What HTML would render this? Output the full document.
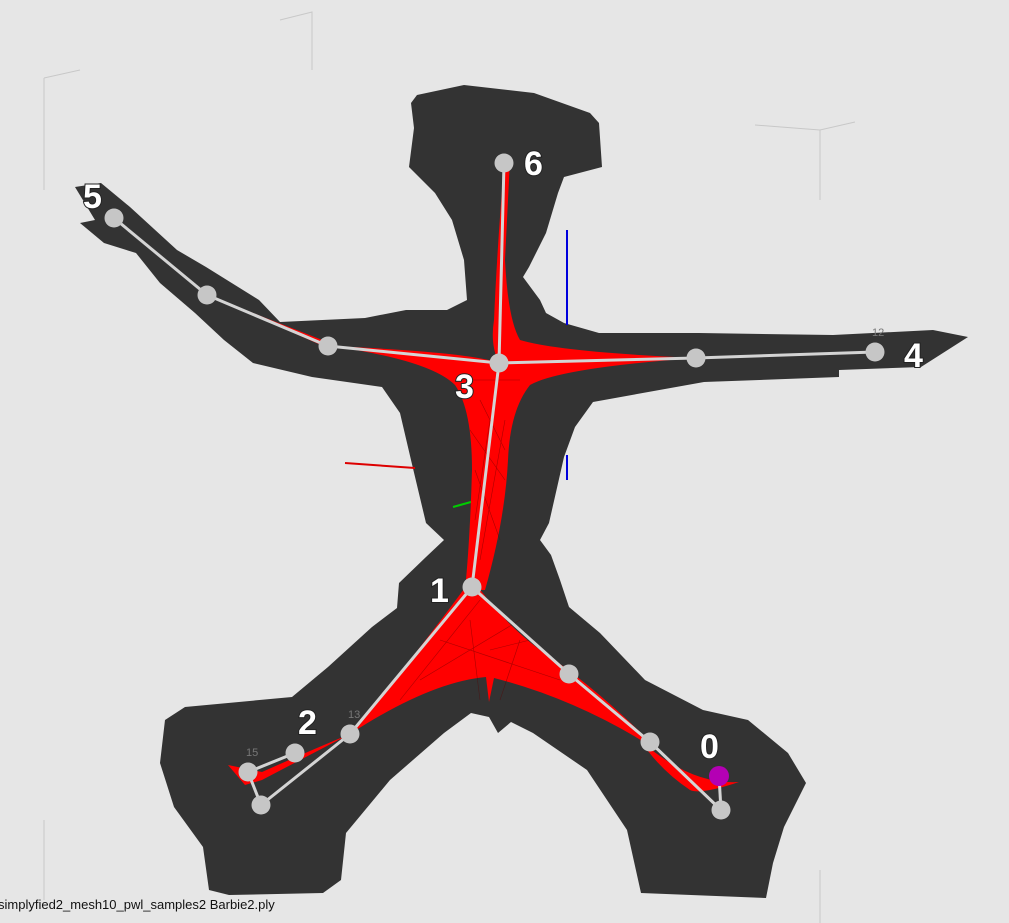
<!DOCTYPE html>
<html><head><meta charset="utf-8">
<style>
html,body{margin:0;padding:0;background:#e6e6e6;}
svg{display:block;}
.lbl{font-family:"Liberation Sans",sans-serif;font-weight:bold;font-size:34px;fill:#fff;stroke:#222;stroke-width:2px;paint-order:stroke;}
.tiny{font-family:"Liberation Sans",sans-serif;font-size:11px;fill:#777;}
</style></head>
<body>
<svg id="scene" width="1009" height="923" viewBox="0 0 1009 923">
<rect width="1009" height="923" fill="#e6e6e6"/>
<g stroke="#c8c8c8" stroke-width="1" fill="none">
<path d="M280,20 L312,12 L312,70"/><path d="M44,78 L80,70 M44,78 L44,190"/>
<path d="M755,125 L820,130 L855,122 M820,130 L820,200"/>
<path d="M44,820 L44,900"/><path d="M820,870 L820,923"/>
</g>
<path fill="#333333" d="M417,95 L464,85 L534,93 L590,113 L599,123 L602,167 L564,177 L558,193 L546,233 L529,267 L523,277 L540,300 L546,313 L564,323 L599,333 L699,333 L833,335 L933,330 L968,337 L921,367 L839,370 L839,377 L704,382 L593,402 L575,427 L564,457 L549,523 L540,540 L551,555 L560,580 L569,607 L600,633 L645,680 L703,710 L748,720 L788,753 L806,783 L784,827 L773,863 L766,898 L641,893 L627,830 L587,770 L533,733 L511,722 L498,733 L489,717 L471,713 L444,733 L390,780 L346,833 L341,880 L323,893 L229,895 L209,890 L203,847 L174,807 L160,763 L165,720 L185,707 L292,697 L328,667 L372,627 L397,608 L399,583 L426,557 L444,540 L426,523 L411,460 L400,413 L382,387 L312,377 L253,363 L224,340 L195,313 L160,283 L136,253 L104,243 L80,223 L95,220 L75,187 L101,183 L130,207 L177,250 L206,267 L259,300 L280,322 L365,318 L406,310 L447,310 L467,300 L464,260 L452,220 L435,193 L409,167 L414,128 L411,103 Z"/>
<g>
<line x1="567" y1="230" x2="567" y2="325" stroke="#0000dd" stroke-width="2"/>
<line x1="567" y1="455" x2="567" y2="480" stroke="#0000dd" stroke-width="2"/>
<line x1="345" y1="463" x2="415" y2="468" stroke="#dd0000" stroke-width="2"/>
<line x1="453" y1="507" x2="478" y2="500" stroke="#00cc00" stroke-width="2"/>
</g>
<g id="web">
<path fill="#ff0000" d="M499,363 Q470,352 330,346 Q430,360 455,385 Q472,410 472,470 Q470,540 465,590 L485,590 Q505,520 508,460 Q510,410 530,385 Q560,368 696,358 Q560,352 520,340 Q508,320 505,260 L510,160 L504,165 Q497,250 494,320 Q490,345 499,363 Z"/>
<path fill="#ff0000" d="M472,578 Q420,650 350,734 Q430,682 486,677 L489,702 L494,678 Q580,700 660,752 Q600,690 540,650 Q500,620 472,578 Z"/>
<path fill="#ff0000" d="M640,740 Q690,785 739,782 Q700,795 690,790 Q660,770 640,740 Z"/>
<path fill="#ff0000" d="M350,734 Q300,760 262,780 L245,785 L228,765 L262,772 Q300,755 350,734 Z"/>
<path fill="#ff0000" d="M207,295 L330,343 L330,349 Z"/>
<g stroke="#5a0000" stroke-width="0.6" opacity="0.5" fill="none">
<path d="M480,400 L505,450 M470,430 L505,480 M475,470 L500,540 M490,420 L475,520 M505,420 L480,560 M440,640 L560,680 M420,680 L520,620 M470,620 L480,700 M520,640 L500,700 M400,700 L480,600 M460,380 L520,380 M490,650 L530,640"/>
</g>
</g>
<g id="skeleton"></g>
<g>
<text class="lbl" x="524" y="175">6</text>
<text class="lbl" x="83" y="208">5</text>
<text class="lbl" x="455" y="398">3</text>
<text class="lbl" x="904" y="367">4</text>
<text class="lbl" x="430" y="602">1</text>
<text class="lbl" x="298" y="734">2</text>
<text class="lbl" x="700" y="758">0</text>
</g>
<g>
<text class="tiny" x="872" y="336">12</text>
<text class="tiny" x="348" y="718">13</text>
<text class="tiny" x="246" y="756">15</text>
</g>
<text x="-2" y="909" style="font-family:'Liberation Sans Narrow','Liberation Sans',sans-serif;font-size:13px;fill:#111;">simplyfied2_mesh10_pwl_samples2 Barbie2.ply</text>
</svg>
<script>
const jointX = [504,114,207,328,499,696,875,472,569,650,721,350,261,248,295];
const jointY = [163,218,295,346,363,358,352,587,674,742,810,734,805,772,753];
const boneFrom = [0,1,2,3,4,5,4,7,8,9,7,11,12,13];
const boneTo   = [4,2,3,4,5,6,7,8,9,10,11,12,13,14];
const rootX = [719], rootY = [776];
const NS="http://www.w3.org/2000/svg";
const sk=document.getElementById('skeleton');
for(let i=0;i<boneFrom.length;i++){
 const l=document.createElementNS(NS,'line');
 l.setAttribute('x1',jointX[boneFrom[i]]);l.setAttribute('y1',jointY[boneFrom[i]]);
 l.setAttribute('x2',jointX[boneTo[i]]);l.setAttribute('y2',jointY[boneTo[i]]);
 l.setAttribute('stroke','#d4d4d4');l.setAttribute('stroke-width','3');
 
 
 sk.appendChild(l);}
const rl=document.createElementNS(NS,'line');
rl.setAttribute('x1',rootX[0]);rl.setAttribute('y1',rootY[0]);rl.setAttribute('x2',jointX[10]);rl.setAttribute('y2',jointY[10]);
rl.setAttribute('stroke','#d4d4d4');rl.setAttribute('stroke-width','3');


sk.appendChild(rl);
for(let i=0;i<jointX.length;i++){
 const c=document.createElementNS(NS,'circle');
 c.setAttribute('cx',jointX[i]);c.setAttribute('cy',jointY[i]);c.setAttribute('r','9.5');
 c.setAttribute('fill','#c6c6c6');
 
 
 sk.appendChild(c);}
const rc=document.createElementNS(NS,'circle');
rc.setAttribute('cx',rootX[0]);rc.setAttribute('cy',rootY[0]);rc.setAttribute('r','10');rc.setAttribute('fill','#b400b4');


sk.appendChild(rc);
</script>
</body></html>
